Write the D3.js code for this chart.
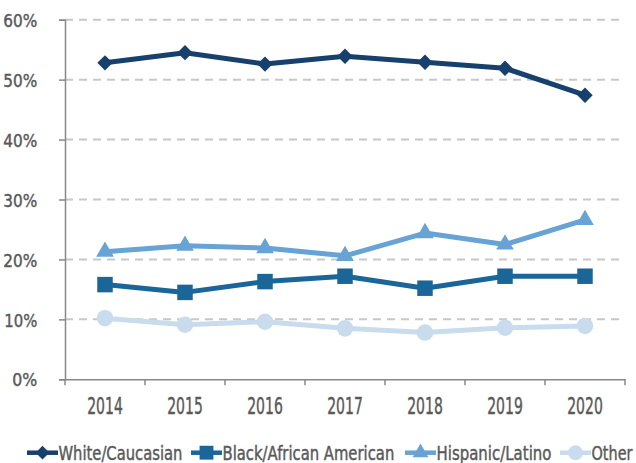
<!DOCTYPE html>
<html><head><meta charset="utf-8">
<script src="https://cdn.jsdelivr.net/npm/d3@7"></script>
<style>
body{margin:0;background:#fff;}
text{font-family:"DejaVu Sans",sans-serif;fill:#595959;stroke:#595959;stroke-width:0.45px;}
</style></head>
<body><svg id="c" width="636" height="463"></svg>
<script>
const years = ["2014","2015","2016","2017","2018","2019","2020"];
const white = [52.8,54.5,52.6,53.9,52.9,51.9,47.4];
const black = [15.8,14.5,16.3,17.2,15.2,17.2,17.2];
const hispanic = [21.3,22.3,21.9,20.6,24.4,22.5,26.6];
const other = [10.2,9.1,9.6,8.5,7.8,8.6,8.9];
const yTicks = [0,10,20,30,40,50,60];
const seriesNames = ["White/Caucasian","Black/African American","Hispanic/Latino","Other"];

const series = [
  {name:seriesNames[0], values:white, color:"#17406d", shape:d3.symbolDiamond2, size:150},
  {name:seriesNames[1], values:black, color:"#1b6698", shape:d3.symbolSquare, size:240},
  {name:seriesNames[2], values:hispanic, color:"#67a3d4", shape:d3.symbolTriangle, size:135},
  {name:seriesNames[3], values:other, color:"#c8dcee", shape:d3.symbolCircle, size:215}
];

const svg = d3.select("#c");
const L=65, R=625, T=19.7, B=379.3;
const x = d3.scaleBand().domain(years).range([L,R]);
const y = d3.scaleLinear().domain([0,60]).range([B,T]);

// gridlines
svg.append("g").selectAll("line").data(yTicks.filter(t=>t>0)).join("line")
  .attr("x1",L).attr("x2",R).attr("y1",d=>y(d)).attr("y2",d=>y(d))
  .attr("stroke","#c8c8c8").attr("stroke-width",2).attr("stroke-dasharray","8,6");

// y axis
const ya = svg.append("g").attr("transform",`translate(${L},0)`)
  .call(d3.axisLeft(y).tickValues(yTicks).tickFormat(d=>d+"%").tickSizeOuter(0).tickSize(6).tickPadding(21.7));
ya.select(".domain").attr("stroke","#888").attr("stroke-width",1.5);
ya.selectAll(".tick line").attr("stroke","#888").attr("stroke-width",1.5);
ya.selectAll("text").attr("font-size",18.5).attr("fill","#595959").style("font-family",null)
  .attr("dy","0.36em")
  .attr("lengthAdjust","spacingAndGlyphs")
  .attr("textLength",d=> d===0 ? 25 : (d===10 ? 33 : 34));

// x axis
const xa = svg.append("g").attr("transform",`translate(0,${B})`)
  .call(d3.axisBottom(x).tickSize(0).tickPadding(0));
xa.select(".domain").attr("stroke","#888").attr("stroke-width",1.5);
xa.selectAll("text").attr("font-size",23).attr("fill","#595959").style("font-family",null)
  .attr("y",35).attr("dy",0)
  .attr("lengthAdjust","spacingAndGlyphs").attr("textLength",35.6);
svg.append("g").selectAll("line").data(years.map(d=>x(d)).concat([R])).join("line")
  .attr("x1",d=>d).attr("x2",d=>d).attr("y1",B).attr("y2",B+6)
  .attr("stroke","#888").attr("stroke-width",1.5);

const cx = d=>x(d)+x.bandwidth()/2;

series.slice().reverse().forEach(s=>{
  const g = svg.append("g");
  g.append("path").datum(s.values)
    .attr("d", d3.line().x((v,i)=>cx(years[i])).y(v=>y(v)))
    .attr("fill","none").attr("stroke",s.color).attr("stroke-width",5).attr("stroke-linejoin","round");
  g.selectAll("path.m").data(s.values).join("path").attr("class","m")
    .attr("transform",(v,i)=>`translate(${cx(years[i])},${y(v)})`)
    .attr("d", d3.symbol().type(s.shape).size(s.size))
    .attr("fill",s.color);
});

// legend
const legendX = [27,191,405,560];
const legendW = [124,172,115,41];
const leg = svg.append("g").attr("transform","translate(0,452.7)");
series.forEach((s,i)=>{
  const g = leg.append("g").attr("transform",`translate(${legendX[i]},0)`);
  g.append("line").attr("x1",0).attr("x2",31).attr("stroke",s.color).attr("stroke-width",4.5);
  g.append("path").attr("transform","translate(15.5,0)")
    .attr("d", d3.symbol().type(s.shape).size(s.size*0.8)).attr("fill",s.color);
  const t = g.append("text").attr("font-size",19).text(s.name);
  const w = t.node().getComputedTextLength();
  t.attr("transform",`translate(31.5,7.3) scale(${legendW[i]/w},1)`);
});
</script></body></html>
